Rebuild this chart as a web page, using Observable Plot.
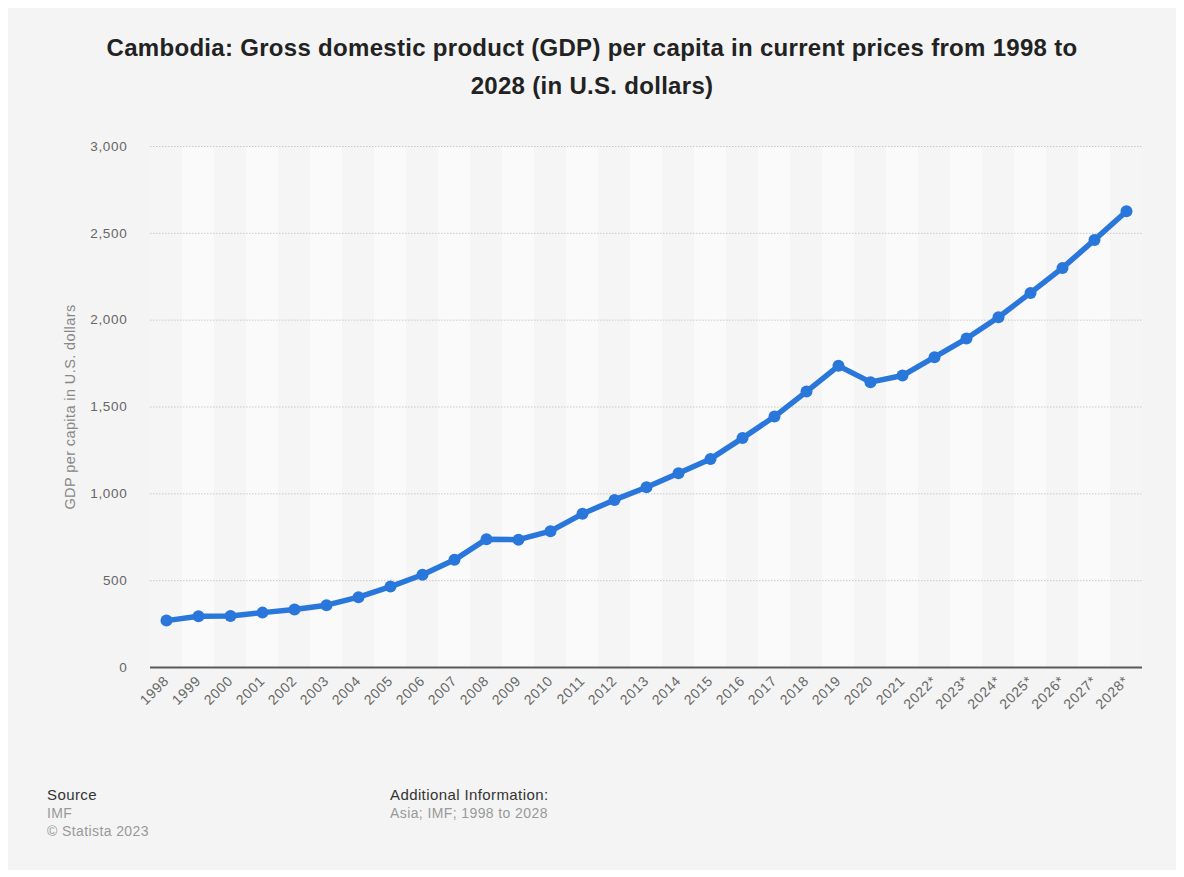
<!DOCTYPE html>
<html>
<head>
<meta charset="utf-8">
<script src="https://cdn.jsdelivr.net/npm/d3@7"></script>
<script src="https://cdn.jsdelivr.net/npm/@observablehq/plot@0.6"></script>
<style>
  html, body { margin: 0; padding: 0; background: #ffffff; }
  body { width: 1184px; height: 877px; position: relative; overflow: hidden; font-family: "Liberation Sans", Arial, sans-serif; }
  #frame { position: absolute; left: 8px; top: 8px; width: 1168px; height: 862px; background: #f4f4f4; }
  #title { position: absolute; left: 0; top: 29px; width: 1184px; text-align: center; font-weight: bold; font-size: 24px; letter-spacing: 0.3px; line-height: 38px; color: #222; }
  #chart { position: absolute; left: 0; top: 120px; }
  #chart g[aria-label="x-axis tick label"] text, #chart g[aria-label="y-axis tick label"] text { letter-spacing: 0.7px; }
  #chart g[aria-label="text"] text { letter-spacing: 0.4px; }
  .foot { position: absolute; top: 786px; font-size: 15px; line-height: 18px; letter-spacing: 0.4px; }
  .foot .h { color: #333; }
  .foot .t { color: #999; font-size: 14px; }
</style>
</head>
<body>
<div id="frame"></div>
<div id="title">Cambodia: Gross domestic product (GDP) per capita in current prices from 1998 to<br>2028 (in U.S. dollars)</div>
<div id="chart"></div>
<div class="foot" style="left:47px"><div class="h">Source</div><div class="t">IMF</div><div class="t">© Statista 2023</div></div>
<div class="foot" style="left:390px"><div class="h">Additional Information:</div><div class="t">Asia; IMF; 1998 to 2028</div></div>
<script>
const years = ["1998","1999","2000","2001","2002","2003","2004","2005","2006","2007","2008","2009","2010","2011","2012","2013","2014","2015","2016","2017","2018","2019","2020","2021","2022*","2023*","2024*","2025*","2026*","2027*","2028*"];
const gdpPerCapita = [270, 295, 297, 316, 334, 359, 405, 466, 534, 620, 739, 736, 785, 885, 965, 1038, 1119, 1201, 1321, 1445, 1589, 1737, 1643, 1681, 1787, 1894, 2017, 2157, 2301, 2462, 2627];
const yTicks = [0, 500, 1000, 1500, 2000, 2500, 3000];
const yLabel = "GDP per capita in U.S. dollars";

const data = years.map((y, i) => ({year: y, value: gdpPerCapita[i], idx: i}));

const chart = Plot.plot({
  width: 1184,
  height: 650,
  marginTop: 26,
  marginBottom: 103,
  marginLeft: 150,
  marginRight: 42,
  style: {background: "transparent", fontFamily: "Liberation Sans, Arial, sans-serif"},
  x: {type: "band", domain: years, paddingInner: 0, paddingOuter: 0},
  y: {domain: [0, 3000]},
  marks: [
    Plot.barY(data, {x: "year", y1: 0, y2: 3000, fill: d => d.idx % 2 ? "#fafafa" : "#f5f5f5"}),
    Plot.gridY(yTicks, {stroke: "#c8c8c8", strokeOpacity: 1, strokeDasharray: "1.5,1.5", strokeWidth: 1}),
    Plot.ruleY([0], {stroke: "#5a5a5a", strokeWidth: 2}),
    Plot.axisY(yTicks, {tickFormat: d3.format(","), tickSize: 0, tickPadding: 23, fontSize: 13.5, fill: "#666", label: null}),
    Plot.text([yLabel], {frameAnchor: "left", textAnchor: "middle", rotate: -90, dx: -80, fontSize: 14.5, fill: "#888"}),
    Plot.axisX({tickRotate: -45, tickSize: 0, tickPadding: 11, fontSize: 14, fill: "#666", label: null}),
    Plot.line(data, {x: "year", y: "value", stroke: "#2a77db", strokeWidth: 5.5, strokeLinejoin: "round", strokeLinecap: "round"}),
    Plot.dot(data, {x: "year", y: "value", r: 6, fill: "#2a77db"})
  ]
});
document.getElementById("chart").appendChild(chart);
</script>
</body>
</html>
